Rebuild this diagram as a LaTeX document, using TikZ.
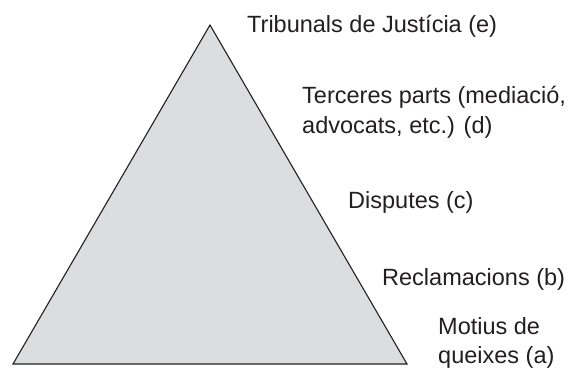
\documentclass[tikz,border=0pt]{standalone}
\usepackage{fontspec}
\setmainfont{Liberation Sans}
\definecolor{trifill}{HTML}{DCDDDF}
\definecolor{txt}{HTML}{231F20}
\begin{document}
\begin{tikzpicture}[x=1pt,y=-1pt,
  lbl/.style={anchor=base west,inner sep=0pt,text=txt,align=left,
    font=\fontsize{23.5}{29}\selectfont}]
\useasboundingbox (0,0) rectangle (571,369);
\coordinate (apex) at (210,25);
\coordinate (bl) at (13,364);
\coordinate (br) at (407,364);
\filldraw[fill=trifill,draw=txt,line width=1.1pt,line join=miter] (apex) -- (br) -- (bl) -- cycle;
\node[lbl] (e) at (247,33) {Tribunals de Justícia (e)};
\node[lbl] (d) at (302,133) {Terceres parts (mediació,\\advocats, etc.) (d)};
\node[lbl] (c) at (348,208) {Disputes (c)};
\node[lbl] (b) at (382,285) {Reclamacions (b)};
\node[lbl] (a) at (438,363) {Motius de\\queixes (a)};
\end{tikzpicture}
\end{document}
